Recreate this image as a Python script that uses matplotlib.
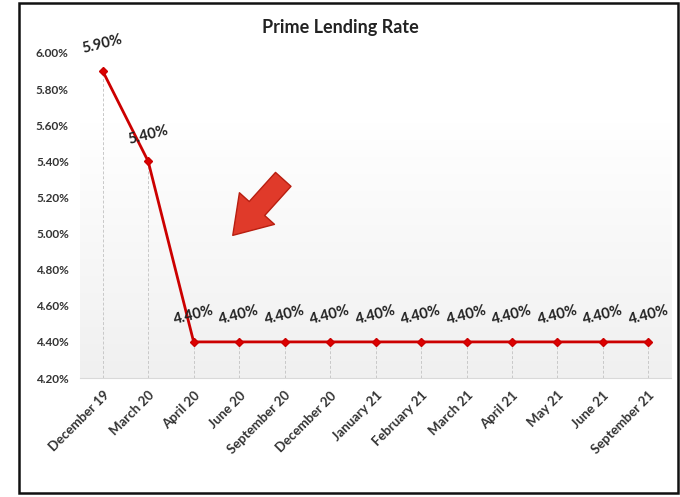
import matplotlib.pyplot as plt
import numpy as np
from matplotlib.patches import Rectangle
from matplotlib.colors import LinearSegmentedColormap

# data
months = ['December 19', 'March 20', 'April 20', 'June 20', 'September 20', 'December 20',
          'January 21', 'February 21', 'March 21', 'April 21', 'May 21', 'June 21', 'September 21']
rates = [5.90, 5.40, 4.40, 4.40, 4.40, 4.40, 4.40, 4.40, 4.40, 4.40, 4.40, 4.40, 4.40]
yticks = [4.20, 4.40, 4.60, 4.80, 5.00, 5.20, 5.40, 5.60, 5.80, 6.00]

plt.rcParams['font.family'] = ['Lato', 'DejaVu Sans']

fig = plt.figure(figsize=(6.8, 4.97), dpi=100)
ax = fig.add_axes([0.1176, 0.2394, 0.8694, 0.654])

x = np.arange(len(months))

# soft grey gradient in the lower part of the plot area
grad = np.linspace(1.0, 0.0, 256).reshape(-1, 1)
cmap = LinearSegmentedColormap.from_list('g', ['#f0f0f0', '#ffffff'])
ax.imshow(grad, extent=(-0.5, len(months) - 0.5, 4.2, 5.61), aspect='auto',
          cmap=cmap, vmin=0, vmax=1, zorder=0, origin='upper')

# drop lines
ax.vlines(x, 4.2, rates, colors='#c8c8c8', linestyles=(0, (3, 2)), linewidth=0.7, zorder=1)

# the line
ax.plot(x, rates, color='#cc0000', linewidth=2, marker='D', markersize=4.5,
        markerfacecolor='#dd0000', markeredgecolor='#cc0000', zorder=3)

for xi, r in zip(x, rates):
    ax.annotate(f'{r:.2f}%', (xi, r), xytext=(0, 19), textcoords='offset points',
                ha='center', va='center', rotation=14, fontsize=10.5, fontweight='bold',
                color='#222222')

# red arrow
ax.annotate('', xy=(2.86, 4.99), xytext=(3.97, 5.30),
            arrowprops=dict(arrowstyle='simple,head_length=1.3,head_width=1.7,tail_width=0.75',
                            mutation_scale=20, facecolor='#e03a2a', edgecolor='#b81e10',
                            linewidth=1, shrinkA=0, shrinkB=0), zorder=4)

ax.set_xlim(-0.5, len(months) - 0.5)
ax.set_ylim(4.2, 6.0)
ax.set_yticks(yticks)
ax.set_yticklabels([f'{t:.2f}%' for t in yticks], fontsize=8.5, fontweight='bold', color='#333333')
ax.set_xticks(x)
ax.set_xticklabels(months, rotation=45, ha='right', rotation_mode='anchor',
                   fontsize=9.5, fontweight='bold', color='#333333')
ax.tick_params(length=0, pad=8)
for s in ['top', 'right', 'left']:
    ax.spines[s].set_visible(False)
ax.spines['bottom'].set_color('#d9d9d9')
ax.set_facecolor('none')

fig.text(0.5, 0.944, 'Prime Lending Rate', ha='center', va='center', fontsize=13,
         fontweight='bold', color='#222222')

# outer frame
fig.patches.append(Rectangle((19 / 680, 4 / 497), 659 / 680, 490 / 497, transform=fig.transFigure,
                             fill=False, edgecolor='#111111', linewidth=1.8))

fig.savefig('out.png', dpi=100)
